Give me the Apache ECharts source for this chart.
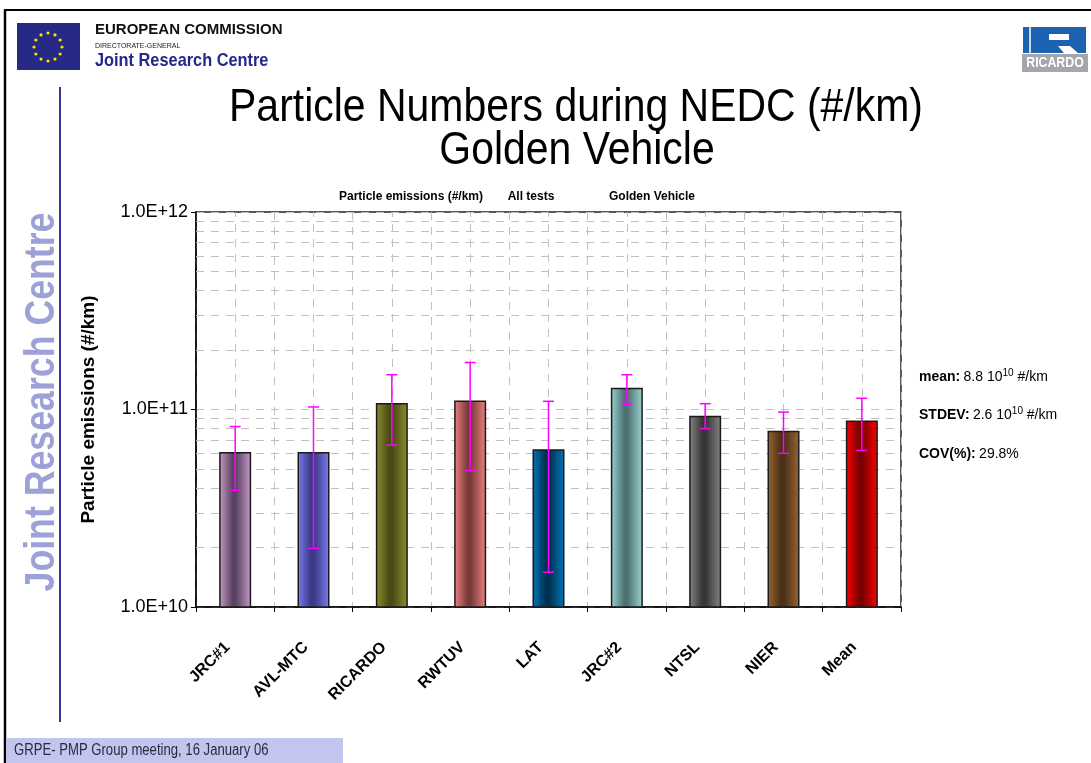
<!DOCTYPE html>
<html>
<head>
<meta charset="utf-8">
<script src="https://cdn.jsdelivr.net/npm/echarts@6/dist/echarts.min.js"></script>
<style>
  html, body { margin: 0; padding: 0; background: #fff; }
  #main { width: 1091px; height: 763px; }
</style>
</head>
<body>
<div id="main"></div>
<script>
// data
var categories = ['JRC#1', 'AVL-MTC', 'RICARDO', 'RWTUV', 'LAT', 'JRC#2', 'NTSL', 'NIER', 'Mean'];
var values = [6.1e10, 6.1e10, 1.08e11, 1.11e11, 6.3e10, 1.29e11, 9.3e10, 7.8e10, 8.8e10];
var errHigh = [8.2e10, 1.03e11, 1.50e11, 1.73e11, 1.10e11, 1.50e11, 1.07e11, 9.7e10, 1.14e11];
var errLow = [3.9e10, 1.98e10, 6.6e10, 4.9e10, 1.5e10, 1.06e11, 8.0e10, 6.0e10, 6.2e10];
var minorGrid = [2e10, 3e10, 4e10, 5e10, 6e10, 7e10, 8e10, 9e10,
                 2e11, 3e11, 4e11, 5e11, 6e11, 7e11, 8e11, 9e11];

// bar colours: edge colour and the dark middle of the shading
var barEdge = ['#c89cca', '#7c7cf2', '#8c8c2c', '#f08282', '#0077b8', '#9ad4d4', '#858585', '#9a6532', '#ff0000'];
var barMid = ['#5a4262', '#3a3a86', '#4a4a16', '#7a3a3a', '#00304f', '#4f7070', '#363636', '#4a3016', '#7a0000'];

var arial = '"Liberation Sans", Arial, sans-serif';

var chart = echarts.init(document.getElementById('main'));

// EU flag stars
var stars = [];
for (var k = 0; k < 12; k++) {
    var a = k / 12 * Math.PI * 2;
    stars.push({
        type: 'circle',
        shape: { cx: 48 + 14 * Math.cos(a), cy: 47 + 14 * Math.sin(a), r: 1.6 },
        style: { fill: '#ffe000' }
    });
}

var dashed = { color: '#c0c0c0', type: [8, 7], width: 1 };

function statText(y, txt) {
    return {
        type: 'text', x: 919, y: y,
        style: {
            text: txt,
            verticalAlign: 'middle',
            rich: {
                b: { fontFamily: arial, fontSize: 14, fontWeight: 'bold', fill: '#000', lineHeight: 18 },
                n: { fontFamily: arial, fontSize: 14, fill: '#000', lineHeight: 18 },
                s: { fontFamily: arial, fontSize: 10, fill: '#000', lineHeight: 18, verticalAlign: 'top' }
            }
        }
    };
}

function chartTitle(x, txt) {
    return { type: 'text', x: x, y: 197, style: { text: txt, fontFamily: arial, fontSize: 12, fontWeight: 'bold', fill: '#000', align: 'center', verticalAlign: 'middle' } };
}

chart.setOption({
    animation: false,
    backgroundColor: '#fff',
    grid: {
        left: 196, right: 190, top: 212, bottom: 156,
        show: true, borderColor: '#222', borderWidth: 1.5
    },
    xAxis: {
        type: 'category',
        data: categories,
        boundaryGap: true,
        axisLine: { lineStyle: { color: '#000', width: 1.5 } },
        axisTick: { show: true, length: 5, interval: 0, lineStyle: { color: '#000' } },
        splitLine: { show: true, interval: 0, lineStyle: dashed },
        axisLabel: {
            interval: 0, rotate: 45, margin: 30, padding: [0, 11, 0, 0],
            fontFamily: arial, fontSize: 16, fontWeight: 'bold', color: '#000'
        }
    },
    yAxis: {
        type: 'log',
        logBase: 10,
        min: 1e10,
        max: 1e12,
        name: 'Particle emissions (#/km)',
        nameLocation: 'middle',
        nameGap: 98,
        nameTextStyle: { fontFamily: arial, fontSize: 19, fontWeight: 'bold', color: '#000' },
        axisLine: { show: true, lineStyle: { color: '#000', width: 1.5 } },
        axisTick: { show: true, length: 5, lineStyle: { color: '#000' } },
        splitLine: { show: true, lineStyle: dashed },
        axisLabel: {
            fontFamily: arial, fontSize: 18, color: '#000', margin: 8,
            formatter: function (v) { return '1.0E+' + Math.round(Math.log10(v)); }
        }
    },
    series: [
        {
            type: 'bar',
            z: 3,
            barWidth: 32,
            data: values.map(function (v, i) {
                return {
                    value: v,
                    itemStyle: {
                        color: new echarts.graphic.LinearGradient(0, 0, 1, 0, [
                            { offset: 0, color: barEdge[i] },
                            { offset: 0.42, color: barMid[i] },
                            { offset: 0.52, color: barMid[i] },
                            { offset: 1, color: barEdge[i] }
                        ]),
                        borderColor: '#1a1a1a',
                        borderWidth: 1.5
                    }
                };
            }),
            markLine: {
                z: 1,
                silent: true,
                symbol: 'none',
                label: { show: false },
                lineStyle: dashed,
                data: categories.map(function (c) { return { xAxis: c }; })
                    .concat(minorGrid.map(function (v) { return { yAxis: v }; }))
            }
        },
        {
            type: 'custom',
            z: 4,
            encode: { x: 0, y: [1, 2] },
            data: categories.map(function (c, i) { return [i, errLow[i], errHigh[i]]; }),
            renderItem: function (params, api) {
                var lo = api.coord([api.value(0), api.value(1)]);
                var hi = api.coord([api.value(0), api.value(2)]);
                var w = 5.5;
                var st = { stroke: '#ff00ff', lineWidth: 1.5 };
                return {
                    type: 'group',
                    children: [
                        { type: 'line', shape: { x1: lo[0], y1: lo[1], x2: hi[0], y2: hi[1] }, style: st },
                        { type: 'line', shape: { x1: hi[0] - w, y1: hi[1], x2: hi[0] + w, y2: hi[1] }, style: st },
                        { type: 'line', shape: { x1: lo[0] - w, y1: lo[1], x2: lo[0] + w, y2: lo[1] }, style: st }
                    ]
                };
            }
        }
    ],
    graphic: [
        // slide frame
        { type: 'line', shape: { x1: 4, y1: 10, x2: 1091, y2: 10 }, style: { stroke: '#000', lineWidth: 2 } },
        { type: 'line', shape: { x1: 5, y1: 10, x2: 5, y2: 763 }, style: { stroke: '#000', lineWidth: 2.5 } },
        { type: 'line', shape: { x1: 60, y1: 87, x2: 60, y2: 722 }, style: { stroke: '#33339a', lineWidth: 2 } },
        // EU flag
        { type: 'rect', shape: { x: 17, y: 23, width: 63, height: 47 }, style: { fill: '#262a86' } },
        { type: 'group', children: stars },
        { type: 'text', x: 95, y: 30, style: { text: 'EUROPEAN COMMISSION', fontFamily: arial, fontSize: 15, fontWeight: 'bold', fill: '#111', verticalAlign: 'middle' } },
        { type: 'text', x: 95, y: 46, style: { text: 'DIRECTORATE-GENERAL', fontFamily: arial, fontSize: 7, fill: '#222', verticalAlign: 'middle' } },
        { type: 'text', x: 95, y: 61, scaleX: 0.86, style: { text: 'Joint Research Centre', fontFamily: arial, fontSize: 19, fontWeight: 'bold', fill: '#23288a', verticalAlign: 'middle' } },
        // vertical JRC text
        { type: 'text', x: 42, y: 402, rotation: Math.PI / 2, scaleX: 0.85, style: { text: 'Joint Research Centre', fontFamily: arial, fontSize: 42, fontWeight: 'bold', fill: '#9ca2d8', align: 'center', verticalAlign: 'middle' } },
        // RICARDO logo
        { type: 'rect', shape: { x: 1023, y: 27, width: 63, height: 26 }, style: { fill: '#1b62b0' } },
        { type: 'rect', shape: { x: 1029, y: 27, width: 2, height: 26 }, style: { fill: '#c8d8ee' } },
        { type: 'rect', shape: { x: 1049, y: 34, width: 20, height: 6 }, style: { fill: '#fff' } },
        { type: 'polygon', shape: { points: [[1058, 46], [1070, 46], [1078, 53], [1064, 53]] }, style: { fill: '#fff' } },
        { type: 'rect', shape: { x: 1022, y: 54, width: 66, height: 18 }, style: { fill: '#a3a7ab' } },
        { type: 'text', x: 1055, y: 63, scaleX: 0.88, style: { text: 'RICARDO', fontFamily: arial, fontSize: 14, fontWeight: 'bold', fill: '#fff', align: 'center', verticalAlign: 'middle' } },
        // slide title
        { type: 'text', x: 576, y: 108, scaleX: 0.89, style: { text: 'Particle Numbers during NEDC (#/km)', fontFamily: arial, fontSize: 46, fill: '#000', align: 'center', verticalAlign: 'middle' } },
        { type: 'text', x: 577, y: 151, scaleX: 0.89, style: { text: 'Golden Vehicle', fontFamily: arial, fontSize: 46, fill: '#000', align: 'center', verticalAlign: 'middle' } },
        // chart title
        chartTitle(411, 'Particle emissions (#/km)'),
        chartTitle(531, 'All tests'),
        chartTitle(652, 'Golden Vehicle'),
        // statistics
        statText(377, '{b|mean:} {n|8.8 10}{s|10}{n| #/km}'),
        statText(415, '{b|STDEV:} {n|2.6 10}{s|10}{n| #/km}'),
        statText(454, '{b|COV(%):} {n|29.8%}'),
        // footer
        { type: 'rect', shape: { x: 6, y: 738, width: 337, height: 25 }, style: { fill: '#c2c6ee' } },
        { type: 'text', x: 14, y: 751, scaleX: 0.82, style: { text: 'GRPE- PMP Group meeting, 16 January 06', fontFamily: arial, fontSize: 16, fill: '#2a2a40', verticalAlign: 'middle' } }
    ]
});
</script>
</body>
</html>
